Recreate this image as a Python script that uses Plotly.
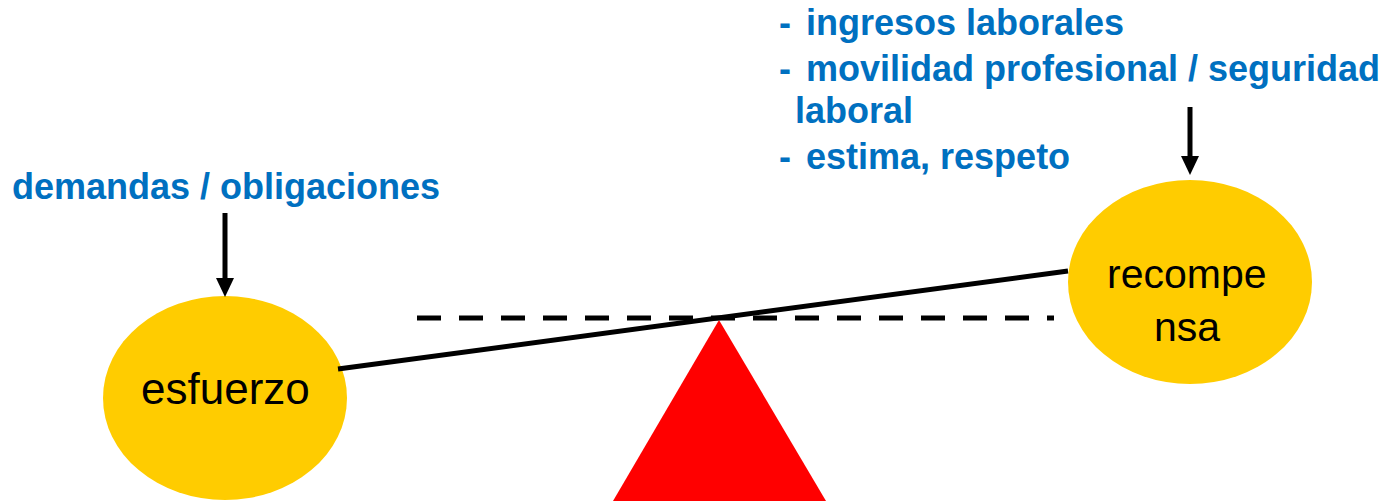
import plotly.graph_objects as go

W, H = 1386, 501

# --- content ---
node_labels = [["esfuerzo"], ["recompe", "nsa"]]
left_label = "demandas / obligaciones"
reward_items = ["ingresos laborales", "movilidad profesional / seguridad", "laboral", "estima, respeto"]
reward_dash = [True, True, False, True]

# --- geometry (page pixel space) ---
node_cx = [225, 1190]
node_cy = [398, 282]
node_rx = [122, 122]
node_ry = [102, 102]
node_font = [44, 41]
beam_x = [338, 1068]
beam_y = [369, 271]
level_x = [417, 1054]
level_y = 318
tri_x = [719, 613, 826]
tri_y = [320, 501, 501]
arrow_x = [225, 1190]
arrow_top = [213, 107]
arrow_tip = [297, 175]
reward_line_y = [22, 68, 110, 156]

BLUE = "#0070C0"
YELLOW = "#FFCC00"
FONT = "Liberation Sans, Arial"

fig = go.Figure()
shapes = []
for cx, cy, rx, ry in zip(node_cx, node_cy, node_rx, node_ry):
    shapes.append(dict(type="circle", xref="x", yref="y", x0=cx - rx, x1=cx + rx,
                       y0=cy - ry, y1=cy + ry, fillcolor=YELLOW, line=dict(width=0), layer="below"))
shapes.append(dict(type="line", x0=level_x[0], x1=level_x[1], y0=level_y, y1=level_y,
                   line=dict(color="black", width=5, dash="24px,18px")))
shapes.append(dict(type="path",
                   path=f"M {tri_x[0]},{tri_y[0]} L {tri_x[1]},{tri_y[1]} L {tri_x[2]},{tri_y[2]} Z",
                   fillcolor="#FF0000", line=dict(width=0)))
shapes.append(dict(type="line", x0=beam_x[0], x1=beam_x[1], y0=beam_y[0], y1=beam_y[1],
                   line=dict(color="black", width=5)))
for ax_, top, tip in zip(arrow_x, arrow_top, arrow_tip):
    shapes.append(dict(type="line", x0=ax_, x1=ax_, y0=top, y1=tip - 16,
                       line=dict(color="black", width=5)))
    shapes.append(dict(type="path", path=f"M {ax_-9},{tip-19} L {ax_+9},{tip-19} L {ax_},{tip} Z",
                       fillcolor="black", line=dict(width=0)))

annotations = []
annotations.append(dict(x=node_cx[0], y=388, text=node_labels[0][0], showarrow=False,
                        font=dict(family=FONT, size=node_font[0], color="black"),
                        xanchor="center", yanchor="middle"))
for i, t in enumerate(node_labels[1]):
    annotations.append(dict(x=node_cx[1] - 3, y=274 + 53 * i, text=t, showarrow=False,
                            font=dict(family=FONT, size=node_font[1], color="black"),
                            xanchor="center", yanchor="middle"))
annotations.append(dict(x=10, y=186, text=f"<b>{left_label}</b>", showarrow=False,
                        font=dict(family=FONT, size=36, color=BLUE),
                        xanchor="left", yanchor="middle"))
for t, d, y in zip(reward_items, reward_dash, reward_line_y):
    if d:
        annotations.append(dict(x=778, y=y, text="<b>-</b>", showarrow=False,
                                font=dict(family=FONT, size=36, color=BLUE),
                                xanchor="left", yanchor="middle", borderpad=0))
        annotations.append(dict(x=805, y=y, text=f"<b>{t}</b>", showarrow=False,
                                font=dict(family=FONT, size=36, color=BLUE),
                                xanchor="left", yanchor="middle", borderpad=0))
    else:
        annotations.append(dict(x=794, y=y, text=f"<b>{t}</b>", showarrow=False,
                                font=dict(family=FONT, size=36, color=BLUE),
                                xanchor="left", yanchor="middle", borderpad=0))

fig.update_layout(
    width=W, height=H, margin=dict(l=0, r=0, t=0, b=0),
    paper_bgcolor="white", plot_bgcolor="white",
    xaxis=dict(range=[0, W], visible=False, fixedrange=True),
    yaxis=dict(range=[H, 0], visible=False, fixedrange=True),
    shapes=shapes, annotations=annotations, showlegend=False,
)
fig.write_html("out.html", config={"displayModeBar": False},
               post_script="document.body.style.margin='0px';document.body.style.overflow='hidden';")
